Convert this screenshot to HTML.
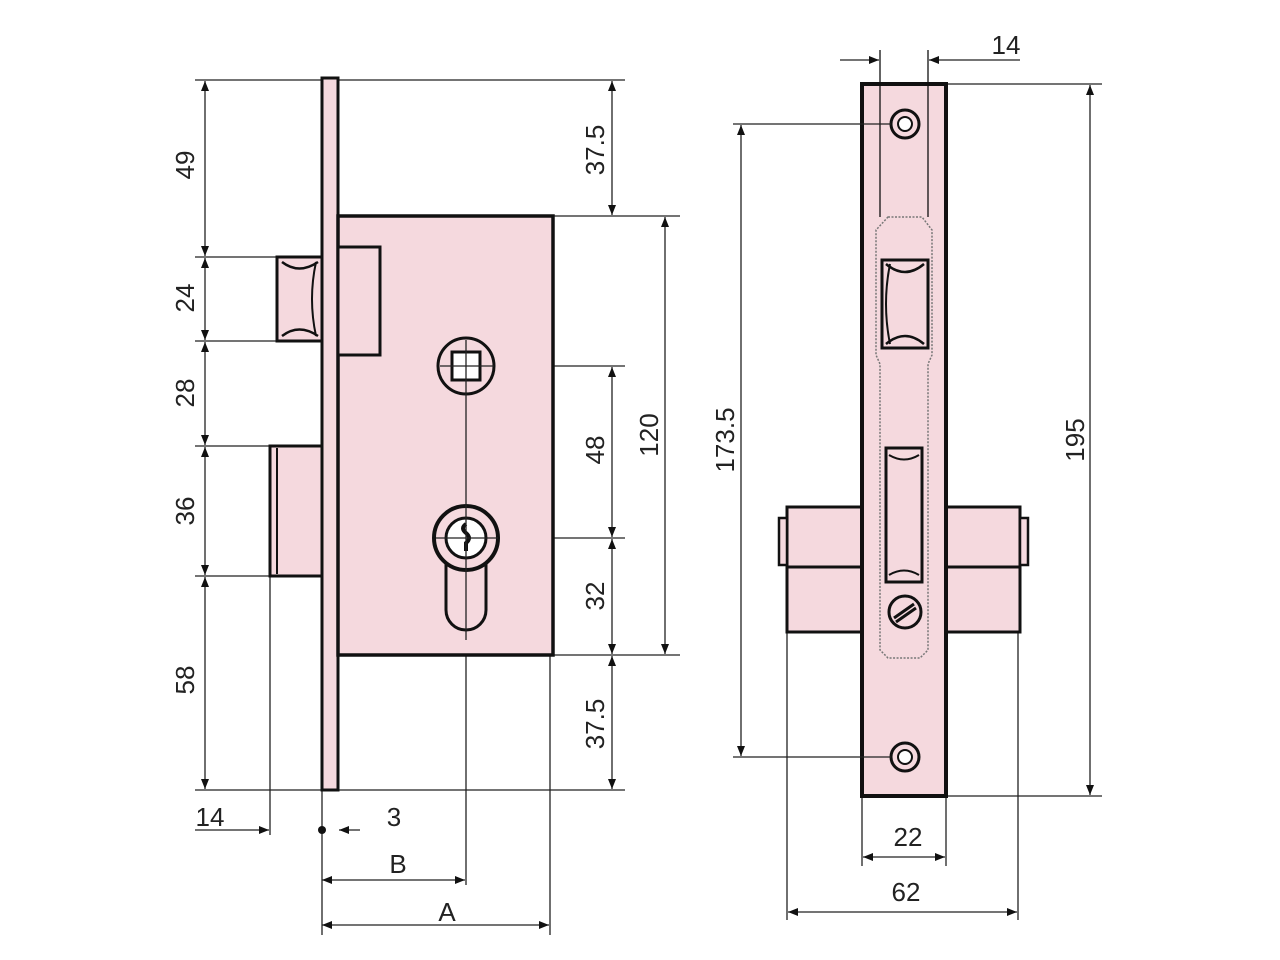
<!DOCTYPE html>
<html><head><meta charset="utf-8"><style>
html,body{margin:0;padding:0;background:#fff;}
svg{display:block}
text{font-family:"Liberation Sans",sans-serif;font-size:26px;fill:#222;}
</style></head><body>
<svg width="1280" height="960" viewBox="0 0 1280 960" xmlns="http://www.w3.org/2000/svg">
<defs>
<marker id="a" markerWidth="10" markerHeight="8" refX="10" refY="4" orient="auto-start-reverse" markerUnits="userSpaceOnUse"><path d="M0,0 L10,4 L0,8 z" fill="#111"/></marker>
</defs>
<rect width="1280" height="960" fill="#ffffff"/>
<g stroke="#222" stroke-width="1.3" fill="none">
<line x1="195" y1="80" x2="625" y2="80"/>
<line x1="195" y1="790" x2="625" y2="790"/>
<line x1="195" y1="257" x2="280" y2="257"/>
<line x1="195" y1="341" x2="280" y2="341"/>
<line x1="195" y1="446" x2="272" y2="446"/>
<line x1="195" y1="576" x2="272" y2="576"/>
<line x1="553" y1="216" x2="680" y2="216"/>
<line x1="553" y1="655" x2="680" y2="655"/>
<line x1="494" y1="366" x2="625" y2="366"/>
<line x1="498" y1="538" x2="625" y2="538"/>
<line x1="270" y1="576" x2="270" y2="835"/>
<line x1="322" y1="790" x2="322" y2="935"/>
<line x1="466" y1="366" x2="466" y2="885"/>
<line x1="550" y1="655" x2="550" y2="935"/>
<line x1="946" y1="84" x2="1102" y2="84"/>
<line x1="946" y1="796" x2="1102" y2="796"/>
<line x1="787" y1="632" x2="787" y2="920"/>
<line x1="1018" y1="632" x2="1018" y2="920"/>
<line x1="862" y1="796" x2="862" y2="866"/>
<line x1="946" y1="796" x2="946" y2="866"/>
</g>
<g stroke="#222" stroke-width="1.3" fill="none" marker-start="url(#a)" marker-end="url(#a)">
<line x1="205" y1="81" x2="205" y2="256"/>
<line x1="205" y1="258" x2="205" y2="340"/>
<line x1="205" y1="342" x2="205" y2="445"/>
<line x1="205" y1="447" x2="205" y2="575"/>
<line x1="205" y1="577" x2="205" y2="789"/>
<line x1="612" y1="81" x2="612" y2="215"/>
<line x1="612" y1="367" x2="612" y2="537"/>
<line x1="612" y1="539" x2="612" y2="654"/>
<line x1="612" y1="656" x2="612" y2="789"/>
<line x1="665" y1="217" x2="665" y2="654"/>
<line x1="322" y1="880" x2="465" y2="880"/>
<line x1="322" y1="925" x2="549" y2="925"/>
<line x1="741" y1="125" x2="741" y2="756"/>
<line x1="1090" y1="85" x2="1090" y2="795"/>
<line x1="863" y1="857" x2="945" y2="857"/>
<line x1="788" y1="912" x2="1017" y2="912"/>
</g>
<g stroke="#222" stroke-width="1.3" fill="none">
<line x1="195" y1="830" x2="269" y2="830" marker-end="url(#a)"/>
<line x1="360" y1="830" x2="339" y2="830" marker-end="url(#a)"/>
<line x1="840" y1="60" x2="879" y2="60" marker-end="url(#a)"/>
<line x1="1020" y1="60" x2="929" y2="60" marker-end="url(#a)"/>
</g>
<circle cx="322" cy="830" r="4" fill="#111"/>

<g stroke="#111" fill="#f5d9de">
<rect x="277" y="257" width="45" height="84" stroke-width="3"/>
<path d="M282,262 Q299,275 318,262 M282,336 Q299,323 318,336" fill="none" stroke-width="2.5"/>
<path d="M316,262 Q308,299 316,336" fill="none" stroke-width="2"/>
<rect x="270" y="446" width="52" height="130" stroke-width="3"/>
<line x1="277" y1="448" x2="277" y2="574" stroke-width="2"/>
<rect x="322" y="78" width="16" height="712" stroke-width="3"/>
<rect x="338" y="216" width="215" height="439" stroke-width="3.5"/>
<rect x="338" y="247" width="42" height="108" stroke-width="3"/>
<circle cx="466" cy="366" r="28" stroke-width="3"/>
<rect x="452" y="352" width="28" height="28" stroke-width="3" fill="#fff"/>
<path d="M446,560 L446,610 A20,20 0 0 0 486,610 L486,560" stroke-width="3"/>
<circle cx="466" cy="538" r="32" stroke-width="4"/>
<circle cx="466" cy="538" r="20" stroke-width="3" fill="#fff"/>
</g>
<path d="M466,524 q-6,4 0,9 q6,5 0,10 l0,8" stroke="#111" stroke-width="4" fill="none"/>
<line x1="466" y1="340" x2="466" y2="640" stroke="#222" stroke-width="1.3"/>
<line x1="440" y1="366" x2="494" y2="366" stroke="#222" stroke-width="1.3"/>
<line x1="436" y1="538" x2="498" y2="538" stroke="#222" stroke-width="1.3"/>

<g stroke="#111" fill="#f5d9de">
<rect x="787" y="507" width="75" height="125" stroke-width="3"/>
<line x1="787" y1="567" x2="862" y2="567" stroke-width="3"/>
<rect x="779" y="518" width="8" height="47" stroke-width="2.5"/>
<rect x="946" y="507" width="74" height="125" stroke-width="3"/>
<line x1="946" y1="567" x2="1020" y2="567" stroke-width="3"/>
<rect x="1020" y="518" width="8" height="47" stroke-width="2.5"/>
<rect x="862" y="84" width="84" height="712" stroke-width="4"/>
<path d="M880,50 L880,217 M928,50 L928,217" fill="none" stroke-width="1.3"/>
<path d="M888,217 L922,217 L932,230 L932,355 L928,364 L928,650 L920,658 L888,658 L880,650 L880,364 L876,355 L876,230 Z" fill="none" stroke="#777" stroke-width="1.5" stroke-dasharray="2,1.5"/>
<rect x="882" y="260" width="46" height="88" stroke-width="3"/>
<path d="M886,264 Q905,280 924,264 M886,344 Q905,328 924,344" fill="none" stroke-width="2.5"/>
<path d="M890,264 Q882,304 890,344" fill="none" stroke-width="2"/>
<rect x="886" y="448" width="36" height="134" stroke-width="3"/>
<path d="M889,455 Q904,464 919,455 M889,575 Q904,566 919,575" fill="none" stroke-width="2"/>
<circle cx="905" cy="124" r="14" stroke-width="3"/>
<circle cx="905" cy="124" r="7" stroke-width="2" fill="#fff"/>
<circle cx="905" cy="757" r="14" stroke-width="3"/>
<circle cx="905" cy="757" r="7" stroke-width="2" fill="#fff"/>
<circle cx="905" cy="612" r="16" stroke-width="3"/>
<path d="M894,618 L914,604 M896,622 L916,608" stroke-width="3" fill="none"/>
</g>
<g stroke="#222" stroke-width="1.3">
<line x1="733" y1="124" x2="891" y2="124"/>
<line x1="733" y1="757" x2="891" y2="757"/>
</g>

<g>
<text transform="translate(194,165) rotate(-90)" text-anchor="middle">49</text>
<text transform="translate(194,298) rotate(-90)" text-anchor="middle">24</text>
<text transform="translate(194,393) rotate(-90)" text-anchor="middle">28</text>
<text transform="translate(194,511) rotate(-90)" text-anchor="middle">36</text>
<text transform="translate(194,680) rotate(-90)" text-anchor="middle">58</text>
<text transform="translate(604,150) rotate(-90)" text-anchor="middle">37.5</text>
<text transform="translate(604,450) rotate(-90)" text-anchor="middle">48</text>
<text transform="translate(604,596) rotate(-90)" text-anchor="middle">32</text>
<text transform="translate(604,724) rotate(-90)" text-anchor="middle">37.5</text>
<text transform="translate(658,435) rotate(-90)" text-anchor="middle">120</text>
<text transform="translate(734,440) rotate(-90)" text-anchor="middle">173.5</text>
<text transform="translate(1084,440) rotate(-90)" text-anchor="middle">195</text>
<text x="210" y="826" text-anchor="middle">14</text>
<text x="394" y="826" text-anchor="middle">3</text>
<text x="398" y="873" text-anchor="middle">B</text>
<text x="447" y="921" text-anchor="middle">A</text>
<text x="1006" y="54" text-anchor="middle">14</text>
<text x="908" y="846" text-anchor="middle">22</text>
<text x="906" y="901" text-anchor="middle">62</text>
</g>
</svg>
</body></html>
